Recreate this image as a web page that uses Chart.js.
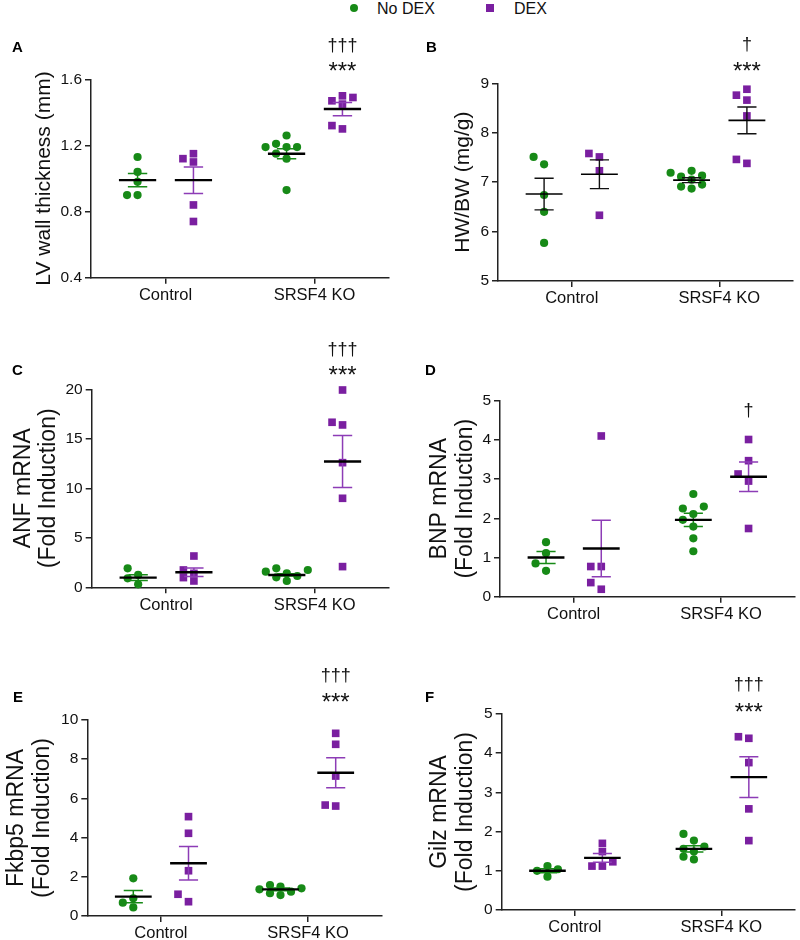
<!DOCTYPE html>
<html><head><meta charset="utf-8">
<script src="https://cdn.jsdelivr.net/npm/chart.js@4.4.0/dist/chart.umd.min.js"></script>
<style>
body{margin:0;width:800px;height:940px;background:#fff;position:relative;overflow:hidden;font-family:"Liberation Sans",Arial,sans-serif;}
canvas{position:absolute;}
.lgt{position:absolute;font-size:16px;color:#111;line-height:18px;top:0;}
.lgm{position:absolute;}
</style></head><body>
<span class="lgm" style="left:350px;top:4px;width:8px;height:8px;border-radius:50%;background:#178a17"></span>
<span class="lgt" style="left:377px;">No DEX</span>
<span class="lgm" style="left:486px;top:4px;width:8px;height:8px;background:#7a1fa0"></span>
<span class="lgt" style="left:514px;">DEX</span>
<canvas id="cA" width="400" height="290" style="left:0;top:30px"></canvas>
<canvas id="cB" width="400" height="290" style="left:400px;top:30px"></canvas>
<canvas id="cC" width="400" height="310" style="left:0;top:320px"></canvas>
<canvas id="cD" width="400" height="310" style="left:400px;top:320px"></canvas>
<canvas id="cE" width="400" height="310" style="left:0;top:630px"></canvas>
<canvas id="cF" width="400" height="310" style="left:400px;top:630px"></canvas>
<script>
// ---------- data ----------
const groups = ['Control', 'SRSF4 KO'];
const seriesNames = ['No DEX', 'DEX'];

// A: LV wall thickness (mm)
const lvCtrlNoDex = [1.13, 1.04, 0.98, 0.90, 0.90];
const lvCtrlDex   = [1.15, 1.12, 1.10, 0.84, 0.74];
const lvKoNoDex   = [1.26, 1.21, 1.19, 1.19, 1.19, 1.15, 1.12, 0.93];
const lvKoDex     = [1.50, 1.49, 1.47, 1.45, 1.32, 1.30];
const lvMeanNoDex = [0.99, 1.15], lvSemNoDex = [0.04, 0.03];
const lvMeanDex   = [0.99, 1.42], lvSemDex   = [0.08, 0.04];

// B: HW/BW (mg/g)
const hwCtrlNoDex = [7.51, 7.36, 6.74, 6.40, 5.77];
const hwCtrlDex   = [7.58, 7.51, 7.23, 6.33];
const hwKoNoDex   = [7.23, 7.19, 7.13, 7.11, 7.05, 6.95, 6.91, 6.87];
const hwKoDex     = [8.88, 8.76, 8.66, 8.34, 7.46, 7.38];
const hwMeanNoDex = [6.76, 7.04], hwSemNoDex = [0.32, 0.05];
const hwMeanDex   = [7.16, 8.25], hwSemDex   = [0.29, 0.27];

// C: ANF mRNA
const anfCtrlNoDex = [1.92, 1.25, 0.91, 0.30];
const anfCtrlDex   = [3.16, 1.75, 1.41, 0.98, 0.64];
const anfKoNoDex   = [1.92, 1.75, 1.58, 1.41, 1.14, 1.01, 0.64];
const anfKoDex     = [19.93, 16.67, 16.40, 12.59, 8.99, 2.09];
const anfMeanNoDex = [0.98, 1.25], anfSemNoDex = [0.29, 0.12];
const anfMeanDex   = [1.52, 12.7], anfSemDex   = [0.42, 2.63];

// D: BNP mRNA
const bnpCtrlNoDex = [1.39, 1.11, 0.85, 0.66];
const bnpCtrlDex   = [4.10, 0.77, 0.77, 0.36, 0.19];
const bnpKoNoDex   = [2.62, 2.30, 2.25, 2.11, 1.96, 1.79, 1.49, 1.16];
const bnpKoDex     = [4.01, 3.47, 3.13, 2.95, 1.74];
const bnpMeanNoDex = [1.00, 1.96], bnpSemNoDex = [0.155, 0.17];
const bnpMeanDex   = [1.23, 3.06], bnpSemDex   = [0.72, 0.375];

// E: Fkbp5 mRNA
const fkCtrlNoDex = [1.92, 0.90, 0.68, 0.44];
const fkCtrlDex   = [5.07, 4.22, 2.31, 1.11, 0.73];
const fkKoNoDex   = [1.58, 1.50, 1.41, 1.36, 1.24, 1.16, 1.07];
const fkKoDex     = [9.32, 8.76, 7.14, 5.66, 5.61];
const fkMeanNoDex = [0.99, 1.36], fkSemNoDex = [0.31, 0.07];
const fkMeanDex   = [2.69, 7.31], fkSemDex   = [0.85, 0.77];

// F: Gilz mRNA
const gzCtrlNoDex = [1.12, 1.04, 1.00, 0.85];
const gzCtrlDex   = [1.70, 1.49, 1.23, 1.12, 1.12];
const gzKoNoDex   = [1.94, 1.77, 1.62, 1.56, 1.49, 1.36, 1.29];
const gzKoDex     = [4.42, 4.38, 3.76, 2.58, 1.77];
const gzMeanNoDex = [1.00, 1.56], gzSemNoDex = [0.05, 0.08];
const gzMeanDex   = [1.33, 3.39], gzSemDex   = [0.11, 0.52];

// ---------- styling ----------
const GREEN = '#178a17', PURPLE = '#7a1fa0', PURPLE_BAR = '#8d3cb6';
const FONT = '"Liberation Sans", Arial, sans-serif';
const OFF = 0.375, MEAN_HW = 0.25, CAP_HW = 0.13;

const panels = [
  {id:'cA', letter:'A', h:290, area:{l:91, t:49.3, r:389, b:247.7}, ymin:0.4, ymax:1.6, step:0.4, dec:1,
   title:['LV wall thickness (mm)'], tfont:21, tx:[44], black:false,
   vals:[lvCtrlNoDex, lvCtrlDex, lvKoNoDex, lvKoDex], mean:[lvMeanNoDex, lvMeanDex], sem:[lvSemNoDex, lvSemDex],
   sig:[{t:'†††', s:18, b:-28.8}, {t:'***', s:24, b:0}], letterPos:[12, 22]},
  {id:'cB', letter:'B', h:290, area:{l:98, t:53.3, r:393, b:251}, ymin:5, ymax:9, step:1, dec:0,
   title:['HW/BW (mg/g)'], tfont:21, tx:[63], black:true,
   vals:[hwCtrlNoDex, hwCtrlDex, hwKoNoDex, hwKoDex], mean:[hwMeanNoDex, hwMeanDex], sem:[hwSemNoDex, hwSemDex],
   sig:[{t:'†', s:18, b:-33.3}, {t:'***', s:24, b:-4}], letterPos:[26, 22]},
  {id:'cC', letter:'C', h:310, area:{l:91.7, t:69.3, r:389, b:267.3}, ymin:0, ymax:20, step:5, dec:0,
   title:['ANF mRNA', '(Fold Induction)'], tfont:23, tx:[23.5, 48.5], black:false,
   vals:[anfCtrlNoDex, anfCtrlDex, anfKoNoDex, anfKoDex], mean:[anfMeanNoDex, anfMeanDex], sem:[anfSemNoDex, anfSemDex],
   sig:[{t:'†††', s:18, b:-34.3}, {t:'***', s:24, b:-6}], letterPos:[12, 55]},
  {id:'cD', letter:'D', h:310, area:{l:100, t:80.7, r:395, b:276.7}, ymin:0, ymax:5, step:1, dec:0,
   title:['BNP mRNA', '(Fold Induction)'], tfont:23, tx:[39.5, 66], black:false,
   vals:[bnpCtrlNoDex, bnpCtrlDex, bnpKoNoDex, bnpKoDex], mean:[bnpMeanNoDex, bnpMeanDex], sem:[bnpSemNoDex, bnpSemDex],
   sig:[{t:'†', s:18, b:15.3}], letterPos:[25, 55]},
  {id:'cE', letter:'E', h:310, area:{l:87.3, t:90, r:381.7, b:286}, ymin:0, ymax:10, step:2, dec:0,
   title:['Fkbp5 mRNA', '(Fold Induction)'], tfont:23, tx:[16.7, 43], black:false,
   vals:[fkCtrlNoDex, fkCtrlDex, fkKoNoDex, fkKoDex], mean:[fkMeanNoDex, fkMeanDex], sem:[fkSemNoDex, fkSemDex],
   sig:[{t:'†††', s:18, b:-39.5}, {t:'***', s:24, b:-9.7}], letterPos:[13, 72]},
  {id:'cF', letter:'F', h:310, area:{l:101.7, t:84, r:396.7, b:280}, ymin:0, ymax:5, step:1, dec:0,
   title:['Gilz mRNA', '(Fold Induction)'], tfont:23, tx:[40, 66], black:false,
   vals:[gzCtrlNoDex, gzCtrlDex, gzKoNoDex, gzKoDex], mean:[gzMeanNoDex, gzMeanDex], sem:[gzSemNoDex, gzSemDex],
   sig:[{t:'†††', s:18, b:-24}, {t:'***', s:24, b:6.3}], letterPos:[25, 72]},
];

// simple beeswarm: spreads overlapping points sideways (in data units of x)
function swarm(values, center, pxX, pxY) {
  const COL = 10.5, MIND = 7.5;
  const placed = [], out = [];
  const order = values.map((v, i) => i).sort((a, b) => values[a] - values[b]);
  for (const i of order) {
    const v = values[i];
    for (const k of [0, -1, 1, -2, 2, -3, 3]) {
      const dx = k * COL;
      if (placed.every(p => Math.hypot(p.dx - dx, (p.v - v) * pxY) >= MIND)) {
        placed.push({dx, v}); out[i] = {x: center + dx / pxX, y: v}; break;
      }
    }
  }
  return out;
}

function meanDs(c, m, w) {
  return {type:'line', data:[{x:c - MEAN_HW, y:m}, {x:c + MEAN_HW, y:m}], borderColor:'#000',
          borderWidth:w, pointRadius:0, fill:false, borderCapStyle:'butt', clip:false};
}
function errDs(c, m, s, color, w) {
  return {type:'line', data:[
      {x:c - CAP_HW, y:m + s}, {x:c + CAP_HW, y:m + s}, {x:c, y:null},
      {x:c, y:m + s}, {x:c, y:m - s}, {x:c, y:null},
      {x:c - CAP_HW, y:m - s}, {x:c + CAP_HW, y:m - s}],
    borderColor:color, borderWidth:w, pointRadius:0, spanGaps:false, fill:false, borderCapStyle:'butt', clip:false};
}

const textPlugin = {
  id:'txt',
  afterDraw(chart, args, opts) {
    const ctx = chart.ctx, ca = chart.chartArea;
    const x = chart.scales.x.getPixelForValue(3 + OFF);
    ctx.save();
    ctx.fillStyle = '#111'; ctx.textAlign = 'center'; ctx.textBaseline = 'alphabetic';
    for (const s of opts.items || []) {
      ctx.font = s.s + 'px ' + FONT;
      ctx.fillText(s.t, x, ca.top + s.b);
    }
    // y axis title (rotated)
    ctx.font = opts.tfont + 'px ' + FONT;
    ctx.textBaseline = 'middle';
    const cy = (ca.top + ca.bottom) / 2;
    opts.title.forEach((line, i) => {
      ctx.save();
      ctx.translate(opts.tx[i], cy);
      ctx.rotate(-Math.PI / 2);
      ctx.fillText(line, 0, 0);
      ctx.restore();
    });
    // panel letter
    ctx.font = 'bold 15px ' + FONT;
    ctx.textAlign = 'left'; ctx.textBaseline = 'alphabetic';
    ctx.fillStyle = '#000';
    ctx.fillText(opts.letter, opts.letterPos[0], opts.letterPos[1]);
    ctx.restore();
  }
};

for (const p of panels) {
  const a = p.area;
  const pxX = (a.r - a.l) / 4, pxY = (a.b - a.t) / (p.ymax - p.ymin);
  const centers = [1 - OFF, 1 + OFF, 3 - OFF, 3 + OFF];
  const isDex = [false, true, false, true];
  const gi = [0, 0, 1, 1];
  const lines = [], errs = [], pts = [];
  centers.forEach((c, k) => {
    const s = isDex[k] ? 1 : 0;
    const m = p.mean[s][gi[k]], se = p.sem[s][gi[k]];
    lines.push(meanDs(c, m, p.black ? 1.6 : 2.4));
    const bc = p.black ? '#111' : (isDex[k] ? PURPLE_BAR : GREEN);
    errs.push(errDs(c, m, se, bc, p.black ? 1.4 : 1.5));
    pts.push({type:'scatter', label: seriesNames[s], data: swarm(p.vals[k], c, pxX, pxY),
      pointStyle: isDex[k] ? 'rect' : 'circle', pointRadius: isDex[k] ? 5.4 : 4.1,
      backgroundColor: isDex[k] ? PURPLE : GREEN, borderWidth:0, clip:false});
  });
  new Chart(document.getElementById(p.id), {
    type:'scatter',
    data:{datasets:[...lines, ...errs, ...pts]},
    options:{
      responsive:false, animation:false, devicePixelRatio:1,
      layout:{padding:{top:a.t, right:400 - a.r, left:0, bottom:0}},
      plugins:{legend:{display:false}, tooltip:{enabled:false},
        txt:{items:p.sig, letter:p.letter, letterPos:p.letterPos, title:p.title, tfont:p.tfont, tx:p.tx}},
      scales:{
        x:{type:'linear', min:0, max:4,
          afterFit(s){ s.height = p.h - a.b; },
          afterBuildTicks(s){ s.ticks = [{value:1}, {value:3}]; },
          ticks:{autoSkip:false, maxRotation:0, padding:2, color:'#111',
            font:{family:FONT, size:16.5}, callback:(v) => v === 1 ? groups[0] : groups[1]},
          grid:{drawOnChartArea:false, drawTicks:true, tickLength:6, color:'#222', lineWidth:1.5},
          border:{display:true, color:'#222', width:1.5}},
        y:{type:'linear', min:p.ymin, max:p.ymax,
          afterFit(s){ s.width = a.l; },
          ticks:{stepSize:p.step, padding:3, color:'#111', font:{family:FONT, size:15.5},
            callback:(v) => Number(v).toFixed(p.dec)},
          grid:{drawOnChartArea:false, drawTicks:true, tickLength:6, color:'#222', lineWidth:1.5},
          border:{display:true, color:'#222', width:1.5},
          title:{display:false}}
      }
    },
    plugins:[textPlugin]
  });
}
</script>
</body></html>
